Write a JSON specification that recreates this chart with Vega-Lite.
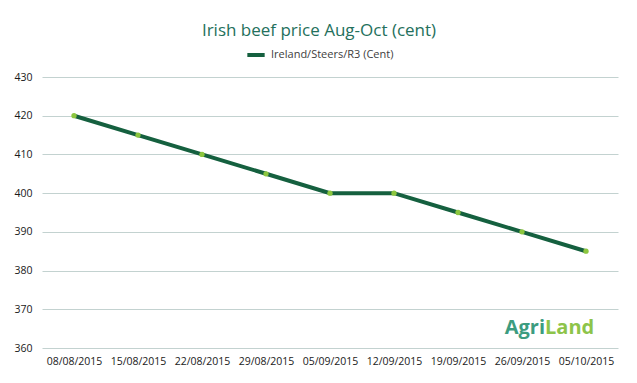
{
  "$schema": "https://vega.github.io/schema/vega-lite/v6.json",
  "width": 576,
  "height": 271,
  "autosize": "none",
  "padding": {"left": 42, "top": 77, "right": 19, "bottom": 35},
  "background": "white",
  "title": {
    "text": "Irish beef price Aug-Oct (cent)",
    "color": "#24705c",
    "font": "Open Sans",
    "fontSize": 17,
    "fontWeight": "normal",
    "anchor": "middle",
    "dx": -11,
    "offset": 4
  },
  "data": {
    "values": [
      {"date": "08/08/2015", "price": 420, "series": "Ireland/Steers/R3 (Cent)"},
      {"date": "15/08/2015", "price": 415, "series": "Ireland/Steers/R3 (Cent)"},
      {"date": "22/08/2015", "price": 410, "series": "Ireland/Steers/R3 (Cent)"},
      {"date": "29/08/2015", "price": 405, "series": "Ireland/Steers/R3 (Cent)"},
      {"date": "05/09/2015", "price": 400, "series": "Ireland/Steers/R3 (Cent)"},
      {"date": "12/09/2015", "price": 400, "series": "Ireland/Steers/R3 (Cent)"},
      {"date": "19/09/2015", "price": 395, "series": "Ireland/Steers/R3 (Cent)"},
      {"date": "26/09/2015", "price": 390, "series": "Ireland/Steers/R3 (Cent)"},
      {"date": "05/10/2015", "price": 385, "series": "Ireland/Steers/R3 (Cent)"}
    ]
  },
  "encoding": {
    "x": {
      "field": "date",
      "type": "ordinal",
      "sort": null,
      "scale": {"type": "point", "padding": 0.5},
      "axis": {
        "title": null,
        "labelAngle": 0,
        "domain": false,
        "ticks": false,
        "labelPadding": 8,
        "labelFont": "Open Sans",
        "labelFontSize": 10.5,
        "labelColor": "#1a1a1a"
      }
    },
    "y": {
      "field": "price",
      "type": "quantitative",
      "scale": {"domain": [360, 430], "nice": false},
      "axis": {
        "title": null,
        "values": [360, 370, 380, 390, 400, 410, 420, 430],
        "domain": false,
        "ticks": false,
        "labelPadding": 10,
        "labelFont": "Open Sans",
        "labelFontSize": 10.5,
        "labelColor": "#1a1a1a",
        "gridColor": "#c3d2d0",
        "gridWidth": 1
      }
    }
  },
  "layer": [
    {
      "mark": {"type": "line", "strokeWidth": 4},
      "encoding": {
        "color": {
          "field": "series",
          "type": "nominal",
          "scale": {"range": ["#15603f"]},
          "legend": {
            "title": null,
            "orient": "none",
            "legendX": 203,
            "legendY": -33,
            "symbolType": "stroke",
            "symbolStrokeWidth": 4,
            "symbolSize": 300,
            "labelFont": "Open Sans",
            "labelFontSize": 11,
            "labelColor": "#404040"
          }
        }
      }
    },
    {
      "mark": {"type": "point", "filled": true, "size": 28, "color": "#8cc63f", "opacity": 1}
    },
    {
      "data": {"values": [{"date": "26/09/2015", "price": 365.2, "word": "Agri"}]},
      "mark": {"type": "text", "align": "right", "baseline": "middle", "dx": 23, "font": "Open Sans", "fontSize": 20, "fontWeight": "bold", "color": "#3c9c80"},
      "encoding": {"text": {"field": "word"}}
    },
    {
      "data": {"values": [{"date": "26/09/2015", "price": 365.2, "word": "Land"}]},
      "mark": {"type": "text", "align": "left", "baseline": "middle", "dx": 23, "font": "Open Sans", "fontSize": 20, "fontWeight": "bold", "color": "#8dc44a"},
      "encoding": {"text": {"field": "word"}}
    }
  ],
  "config": {
    "view": {"stroke": null}
  }
}
